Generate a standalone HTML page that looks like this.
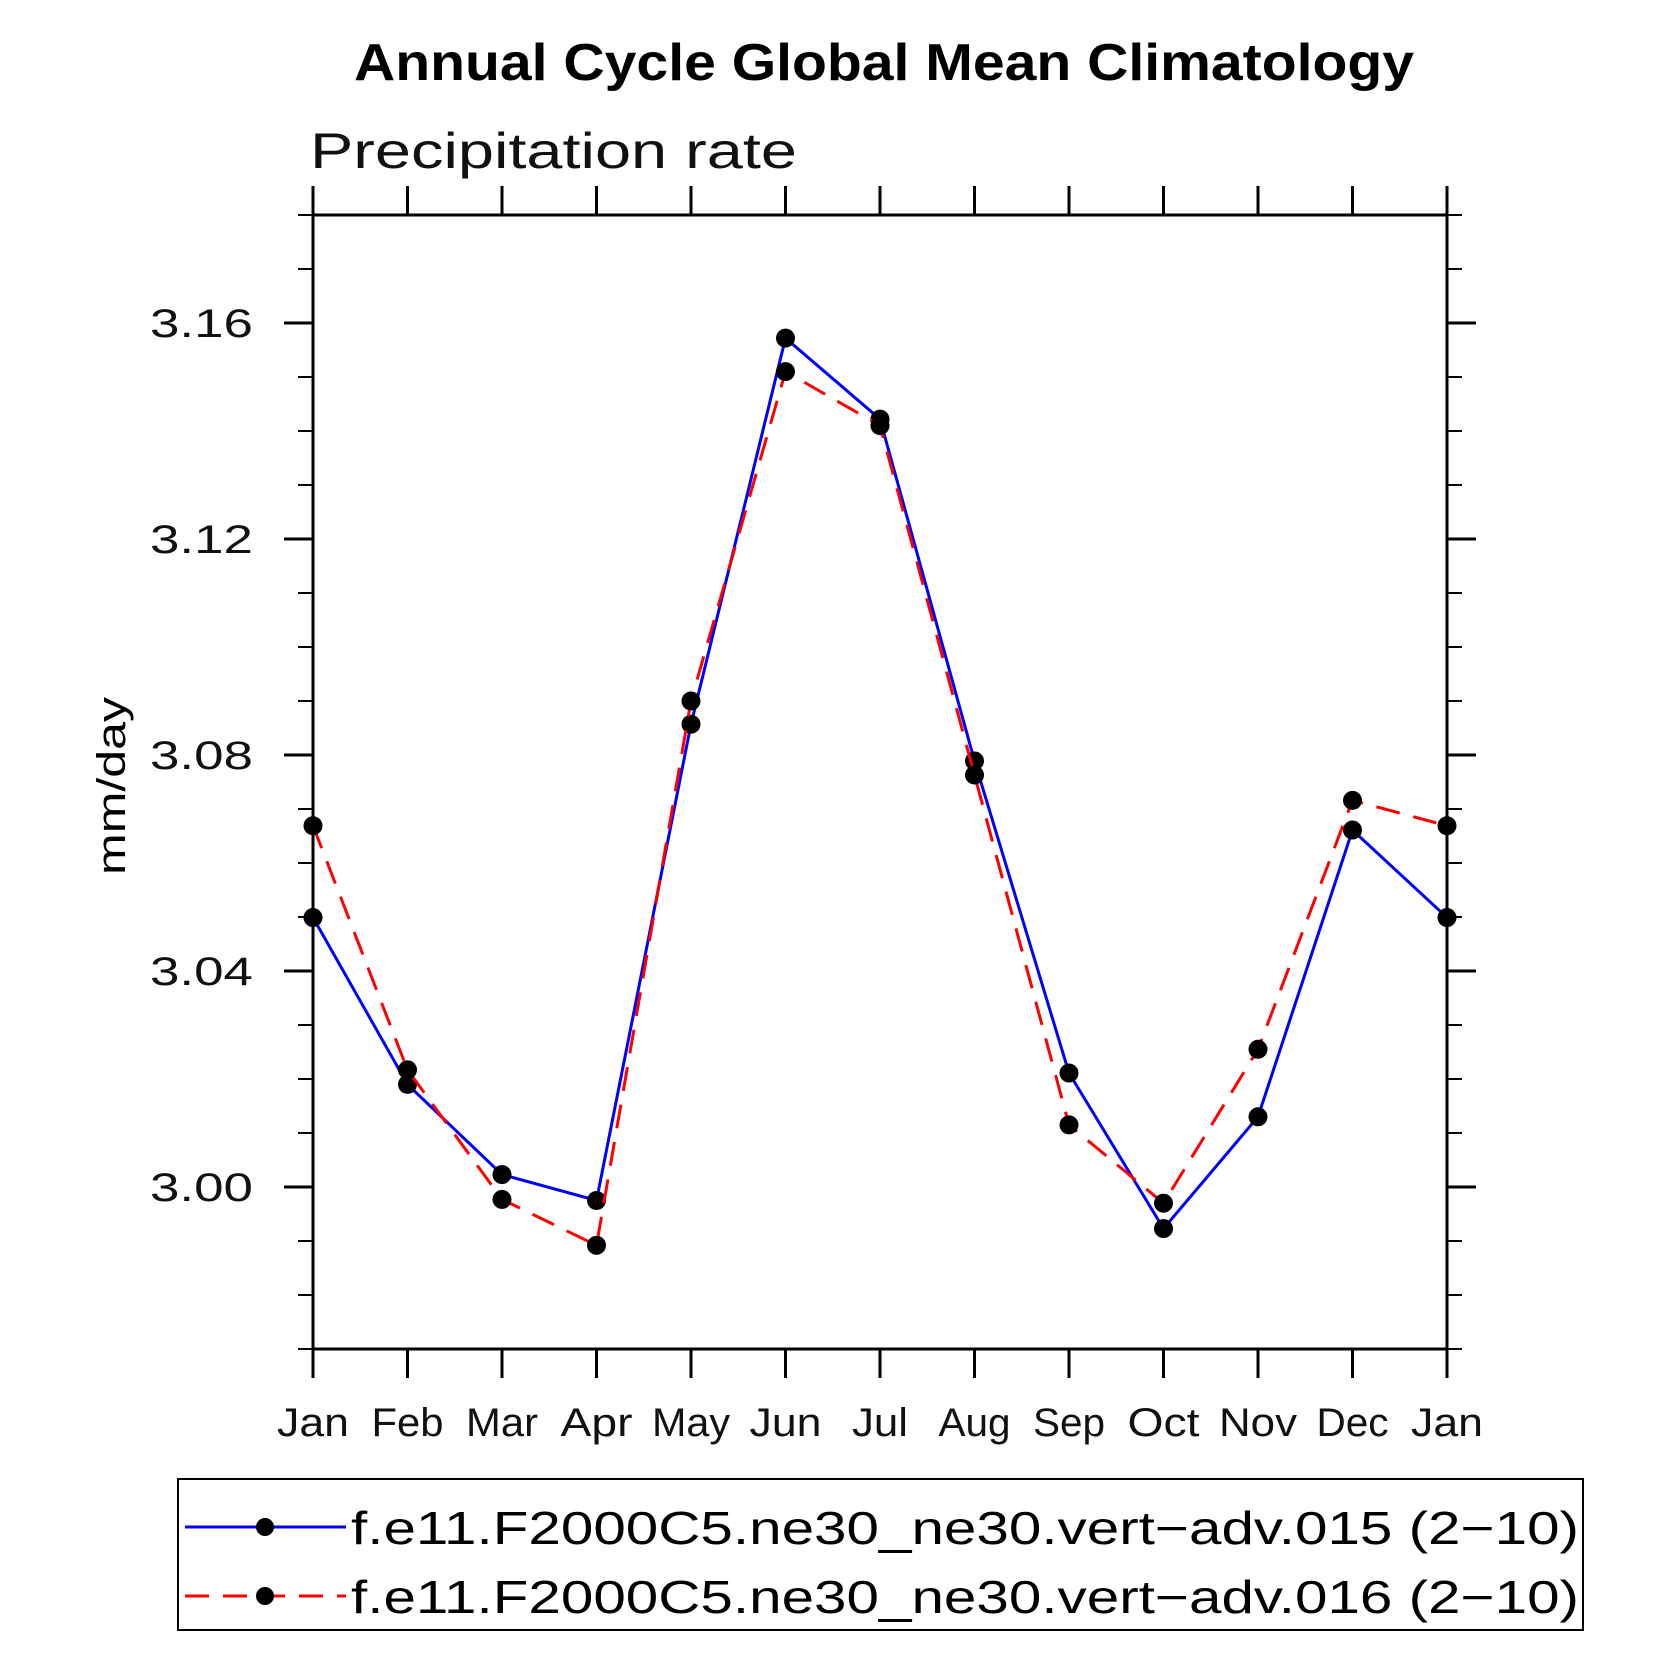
<!DOCTYPE html>
<html><head><meta charset="utf-8"><style>
html,body{margin:0;padding:0;background:#fff;width:1669px;height:1669px;overflow:hidden}
svg{display:block}
text{font-family:"Liberation Sans",sans-serif}
</style></head><body>
<svg id="chart" width="1669" height="1669" viewBox="0 0 1669 1669" xmlns="http://www.w3.org/2000/svg">
<rect width="1669" height="1669" fill="#fff"/>
<text x="884" y="80" text-anchor="middle" font-size="52" font-weight="bold" textLength="1060" lengthAdjust="spacingAndGlyphs">Annual Cycle Global Mean Climatology</text>
<text x="310" y="168" font-size="50" fill="#111" textLength="487" lengthAdjust="spacingAndGlyphs">Precipitation rate</text>
<text transform="translate(125,786) rotate(-90)" text-anchor="middle" font-size="40" textLength="178" lengthAdjust="spacingAndGlyphs">mm/day</text>
<g id="axes"></g>
<g id="series"></g>
<g>
<rect x="178" y="1479" width="1405" height="151" fill="none" stroke="#000" stroke-width="2"/>
<line x1="185" y1="1527" x2="346" y2="1527" stroke="#0000ff" stroke-width="3"/>
<circle cx="265" cy="1527" r="9" fill="#000"/>
<text x="351" y="1544" font-size="46" textLength="1228" lengthAdjust="spacingAndGlyphs">f.e11.F2000C5.ne30_ne30.vert−adv.015 (2−10)</text>
<line x1="185" y1="1596" x2="346" y2="1596" stroke="#ff0000" stroke-width="3" stroke-dasharray="24,14"/>
<circle cx="265" cy="1596" r="9" fill="#000"/>
<text x="351" y="1613" font-size="46" textLength="1228" lengthAdjust="spacingAndGlyphs">f.e11.F2000C5.ne30_ne30.vert−adv.016 (2−10)</text>
</g>
</svg>
<script>
const months = ["Jan","Feb","Mar","Apr","May","Jun","Jul","Aug","Sep","Oct","Nov","Dec","Jan"];
const series015 = [3.0499,3.0190,3.0023,2.9975,3.0857,3.1572,3.1422,3.0789,3.0211,2.9923,3.0130,3.0661,3.0499];
const series016 = [3.0669,3.0217,2.9977,2.9892,3.0900,3.1510,3.1410,3.0763,3.0115,2.9970,3.0255,3.0716,3.0669];
const yTickLabels = ["3.00","3.04","3.08","3.12","3.16"];
const yMin = 2.97, yMax = 3.18;

const NS = "http://www.w3.org/2000/svg";
const L = 313, R = 1447, T = 215, B = 1349;
function xs(i){ return L + (R - L) * i / (months.length - 1); }
function ys(v){ return B - (v - yMin) / (yMax - yMin) * (B - T); }
function mk(tag, attrs, parent){
  const e = document.createElementNS(NS, tag);
  for (const k in attrs) e.setAttribute(k, attrs[k]);
  parent.appendChild(e);
  return e;
}
const axes = document.getElementById("axes");
const frame = mk("rect", {x:L, y:T, width:R-L, height:B-T, fill:"none", stroke:"#000", "stroke-width":3}, axes);


months.forEach((m, i) => {
  const x = xs(i);
  const t1 = mk("line", {x1:x, y1:B, x2:x, y2:B+29, stroke:"#000", "stroke-width":3}, axes);
  
  
  const t2 = mk("line", {x1:x, y1:T, x2:x, y2:T-29, stroke:"#000", "stroke-width":3}, axes);
  
  
  const lb = mk("text", {x:x, y:1436, "text-anchor":"middle", "font-size":40, fill:"#111",
    textLength: (m.length === 3 ? (m === "Jul" ? 56 : (m === "May" || m === "Nov" ? 78 : 72)) : 70), lengthAdjust:"spacingAndGlyphs"}, axes);
  lb.textContent = m;
  
  
});
for (let k = 0; k <= 21; k++) {
  const v = yMin + k * 0.01;
  const y = ys(v);
  const lab = yTickLabels.find(s => Math.abs(parseFloat(s) - v) < 1e-6);
  const len = lab ? 29 : 15;
  const a = mk("line", {x1:L-len, y1:y, x2:L, y2:y, stroke:"#000", "stroke-width":lab?3:2}, axes);
  
  
  const b = mk("line", {x1:R, y1:y, x2:R+len, y2:y, stroke:"#000", "stroke-width":lab?3:2}, axes);
  
  
  if (lab) {
    const t = mk("text", {x:150, y:y+14, "font-size":40, fill:"#111", textLength:103, lengthAdjust:"spacingAndGlyphs"}, axes);
    t.textContent = lab;
    
    
  }
}
const sg = document.getElementById("series");
function drawSeries(vals, color, dash, name){
  const pts = vals.map((v, i) => xs(i) + "," + ys(v)).join(" ");
  const pl = mk("polyline", {points:pts, fill:"none", stroke:color, "stroke-width":3}, sg);
  if (dash) pl.setAttribute("stroke-dasharray", dash);
  
  
  vals.forEach((v, i) => {
    const c = mk("circle", {cx:xs(i), cy:ys(v), r:9.5, fill:"#000"}, sg);
    
    
  });
}
drawSeries(series015, "#0000ff", null, "series-015");
drawSeries(series016, "#ff0000", "24,14", "series-016");
</script>
</body></html>
